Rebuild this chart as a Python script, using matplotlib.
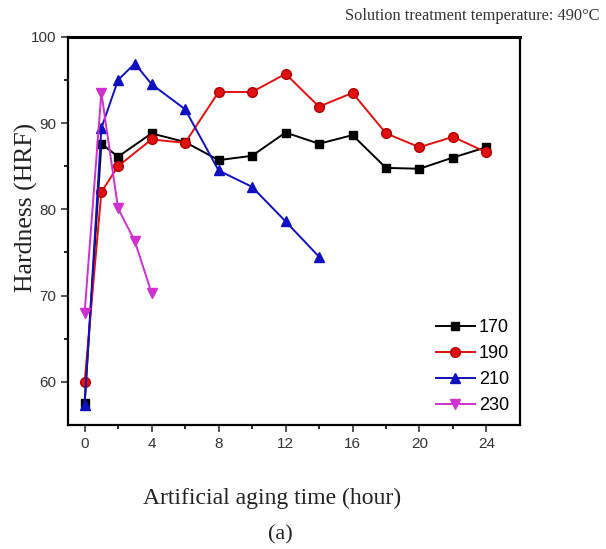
import matplotlib.pyplot as plt

# hardness (HRF) vs artificial aging time for each aging temperature
t_long = [0, 1, 2, 4, 6, 8, 10, 12, 14, 16, 18, 20, 22, 24]
hrf_170 = [57.5, 87.6, 86.1, 88.8, 87.8, 85.7, 86.2, 88.9, 87.6, 88.6, 84.8, 84.7, 86.0, 87.2]
hrf_190 = [60.0, 82.0, 85.0, 88.1, 87.7, 93.6, 93.6, 95.7, 91.9, 93.5, 88.8, 87.2, 88.4, 86.6]

t_210 = [0, 1, 2, 3, 4, 6, 8, 10, 12, 14]
hrf_210 = [57.3, 89.4, 95.0, 96.9, 94.5, 91.6, 84.5, 82.6, 78.6, 74.5]

t_230 = [0, 1, 2, 3, 4]
hrf_230 = [68.0, 93.5, 80.1, 76.3, 70.3]

fig = plt.figure(figsize=(6.06, 5.49), dpi=100)
ax = fig.add_axes([0.112, 0.226, 0.746, 0.707])

ax.plot(t_long, hrf_170, '-s', color='black', ms=6, lw=1.4, label='170')
ax.plot(t_long, hrf_190, '-o', color='#e01010', mec='#b00000', ms=7, lw=1.4, label='190')
ax.plot(t_210, hrf_210, '-^', color='#1010c0', ms=7, lw=1.4, label='210')
ax.plot(t_230, hrf_230, '-v', color='#d030d0', ms=7, lw=1.4, label='230')

ax.set_xlim(-1, 26)
ax.set_ylim(55, 100)
ax.set_xticks(range(0, 25, 4))
ax.set_xticks(range(2, 25, 4), minor=True)
ax.set_yticks(range(60, 101, 10))
ax.set_yticks(range(65, 100, 10), minor=True)
ax.tick_params(which='major', direction='out', length=5, width=1.2, labelsize=11, colors='#333333')
ax.tick_params(which='minor', direction='out', length=3, width=1.2)
for lbl in ax.get_xticklabels() + ax.get_yticklabels():
    lbl.set_family('Liberation Sans')
for s in ax.spines.values():
    s.set_linewidth(1.6)
ax.spines['top'].set_linewidth(2.2)

# axis titles placed as figure text
serif = 'Liberation Serif'
fig.text(0.043, 0.623, 'Hardness (HRF)', family=serif, fontsize=18.5,
         rotation=90, ha='center', va='center', color='#222222')
fig.text(0.449, 0.082, 'Artificial aging time (hour)', family=serif, fontsize=17,
         ha='center', va='baseline', color='#222222')
fig.text(0.462, 0.018, '(a)', family=serif, fontsize=16, ha='center', va='baseline',
         color='#222222')
fig.text(0.99, 0.963, 'Solution treatment temperature: 490\u00b0C', family=serif,
         fontsize=11.8, ha='right', color='#333333')

leg = ax.legend(loc='lower right', frameon=False, handlelength=2.2, handletextpad=0.2,
                labelspacing=0.5, prop={'family': 'Liberation Sans', 'size': 13},
                borderaxespad=0.2)

fig.savefig('out.png', dpi=100)
